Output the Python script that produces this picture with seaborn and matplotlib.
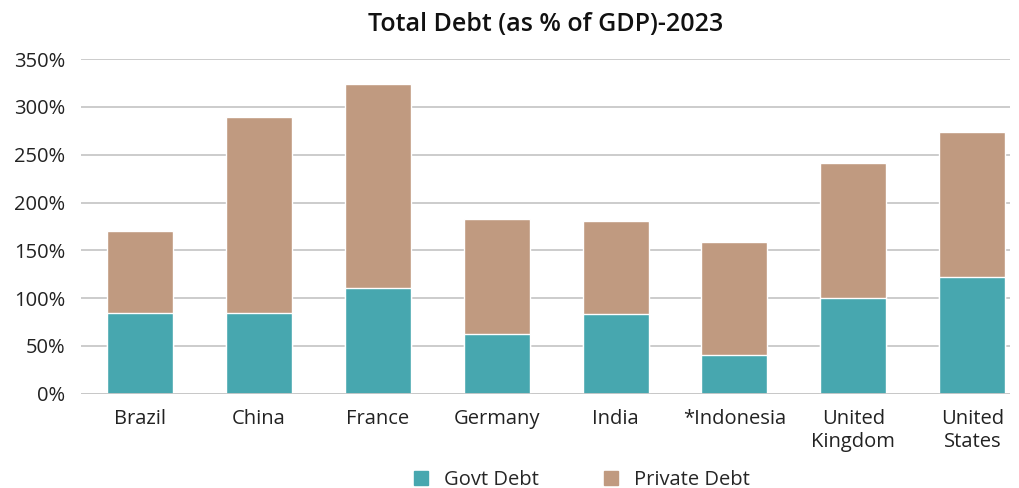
import pandas as pd
import matplotlib.pyplot as plt
import seaborn as sns
from matplotlib.patches import Patch
from matplotlib.ticker import PercentFormatter

countries = ['Brazil', 'China', 'France', 'Germany', 'India', '*Indonesia',
             'United\nKingdom', 'United\nStates']
govt_debt = [85, 85, 111, 63, 83, 41, 100, 122]
private_debt = [85, 204, 213, 120, 98, 118, 141, 152]

df = pd.DataFrame({'country': countries, 'govt': govt_debt, 'private': private_debt})
df['total'] = df['govt'] + df['private']

sns.set_style('white')
plt.rcParams['font.family'] = ['Open Sans', 'DejaVu Sans']

teal = '#47a7af'
tan = '#c09a80'

fig = plt.figure(figsize=(10.19, 4.88), dpi=100)
ax = fig.add_axes([0.079, 0.193, 0.912, 0.686])

sns.barplot(data=df, x='country', y='total', color=tan, width=0.555,
            saturation=1, ax=ax, zorder=3)
sns.barplot(data=df, x='country', y='govt', color=teal, width=0.555,
            saturation=1, ax=ax, zorder=3)

ax.set_ylim(0, 350)
ax.set_yticks(range(0, 351, 50))
ax.yaxis.set_major_formatter(PercentFormatter(decimals=0))
ax.grid(axis='y', color='#c8c8c8', linewidth=1.3, zorder=0)
for s in ax.spines.values():
    s.set_visible(False)
ax.axhline(0, color='#c8c8c8', linewidth=1.3, zorder=4)
ax.set_xlabel('')
ax.set_ylabel('')
ax.tick_params(axis='both', length=0, labelsize=14.5, colors='#222222')
ax.tick_params(axis='y', pad=11)
ax.tick_params(axis='x', pad=11)
ax.set_xlim(-0.50, 7.316)

ax.set_title('Total Debt (as % of GDP)-2023', fontsize=18, fontweight='semibold',
             pad=20, color='#111111')

handles = [Patch(color=teal, label='Govt Debt'), Patch(color=tan, label='Private Debt')]
fig.legend(handles=handles, loc='center', bbox_to_anchor=(0.571, 0.017),
           ncol=2, frameon=False, fontsize=14.5, handlelength=0.7, handleheight=0.7,
           columnspacing=3.2, handletextpad=0.8)

fig.savefig('out.png', dpi=100, facecolor='white')
